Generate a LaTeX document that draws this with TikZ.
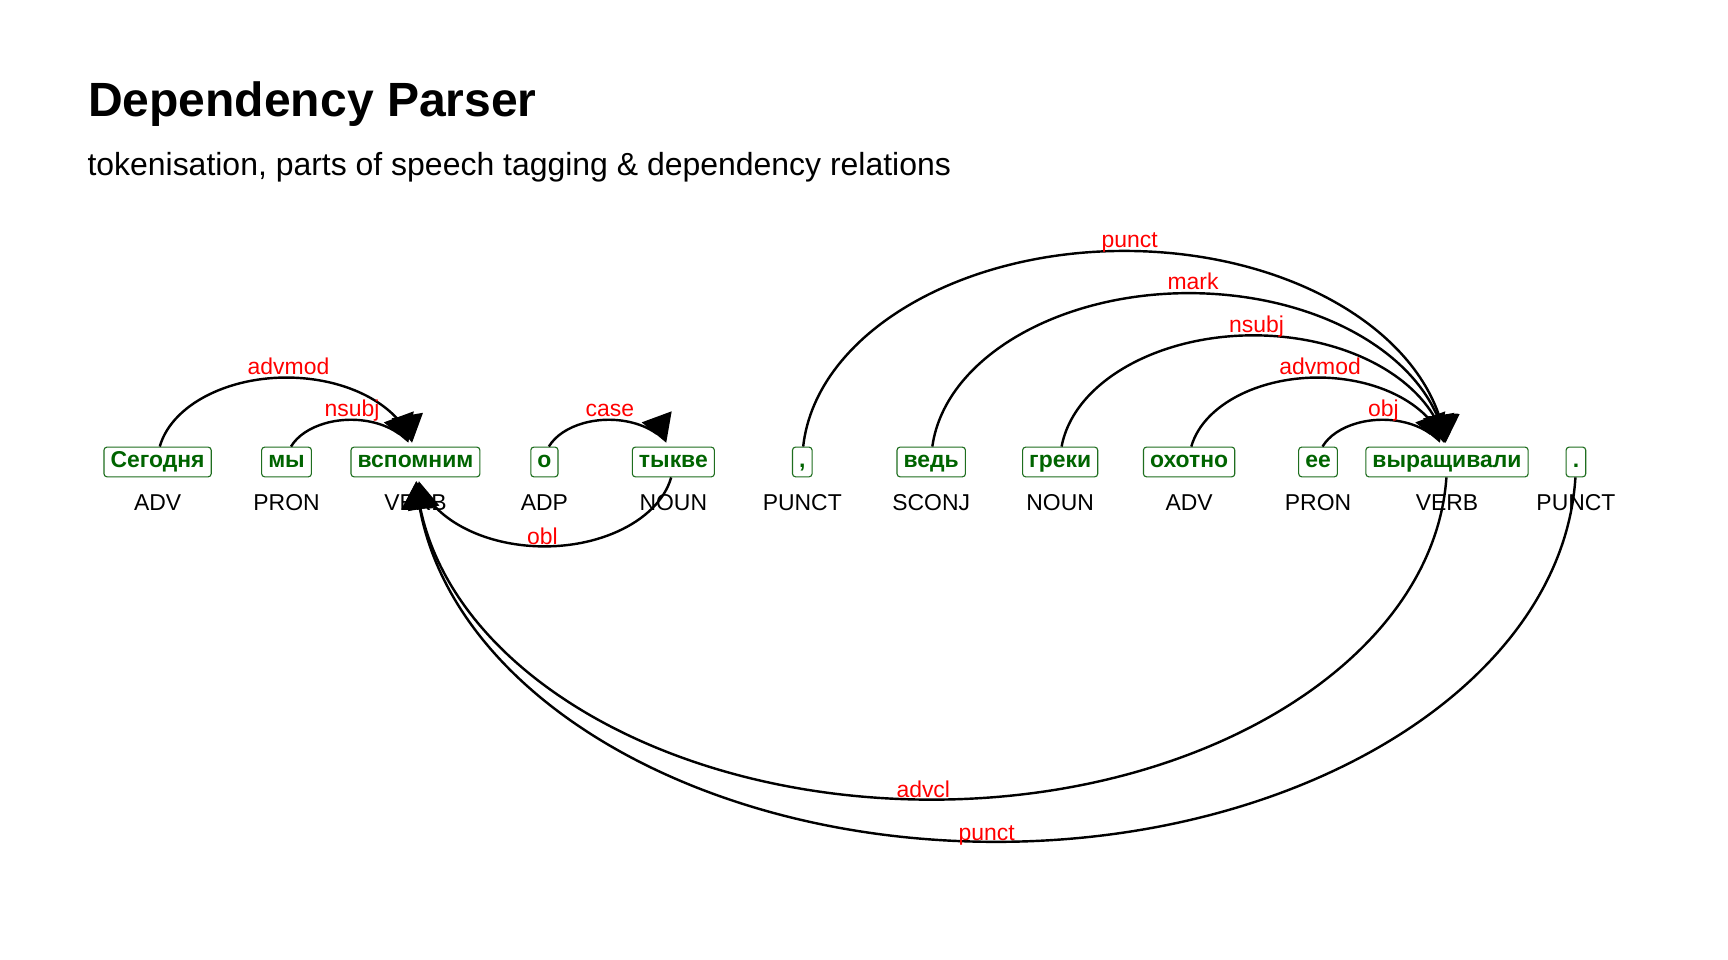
\documentclass[tikz,border=0pt]{standalone}
\usepackage{fontspec}
\setmainfont{Liberation Sans}
\usetikzlibrary{calc}
\definecolor{tokgreen}{HTML}{006400}
\definecolor{tokborder}{HTML}{1E6E1E}
\definecolor{relred}{HTML}{FF0000}
% common geometry of an arc spanning #1 tokens
\newcommand{\depgeom}[1]{%
  \pgfmathsetmacro\dA{58.5*#1}%
  \pgfmathsetmacro\dB{38.3*#1}%
  \pgfmathsetmacro\dS{asin(14/\dB)}%
  \pgfmathsetmacro\dE{asin(17.5/\dB)}%
  \pgfmathsetmacro\dEl{asin(25.5/\dB)}%
  \pgfmathsetmacro\dX{\dA*(1-cos(\dS))}%
  \pgfmathsetmacro\dTx{\dA*(1+cos(\dE))}%
  \pgfmathsetmacro\dT{\dE/2}%
}
\newcommand{\depabove}[4]{%
  \depgeom{#3}%
  \pgfmathsetmacro\dSa{180-\dS}%
  \pgfmathsetmacro\dAng{atan2(-\dB*cos(\dT),\dA*sin(\dT))}%
  \pgfmathsetmacro\dL{\dB+3}%
  \pgfmathsetmacro\dH{0.9*#3}%
  \draw[dep] ($(#1.center)+(\dX,14)$) arc[start angle=\dSa, end angle=\dEl, x radius=\dA, y radius=\dB];
  \fill[arrowhead, shift={($(#1.center)+(\dTx,17.5)$)}, rotate=\dAng] (0,0) -- (-25,14.5) -- (-25,-14.5) -- cycle;
  \node[rellabel] at ($(#1.center)!0.5!(#2.center)+(\dH,\dL)$) {#4};
}
\newcommand{\depbelow}[4]{%
  \depgeom{#3}%
  \pgfmathsetmacro\dSa{-\dS}%
  \pgfmathsetmacro\dEa{\dEl-180}%
  \pgfmathsetmacro\dAng{atan2(\dB*cos(\dT),-\dA*sin(\dT))}%
  \pgfmathsetmacro\dL{1.5-\dB}%
  \pgfmathsetmacro\dH{-0.9*#3}%
  \draw[dep] ($(#1.center)+(-\dX,-14)$) arc[start angle=\dSa, end angle=\dEa, x radius=\dA, y radius=\dB];
  \fill[arrowhead, shift={($(#1.center)+(-\dTx,-17.5)$)}, rotate=\dAng] (0,0) -- (-25,14.5) -- (-25,-14.5) -- cycle;
  \node[rellabel] at ($(#1.center)!0.5!(#2.center)+(\dH,\dL)$) {#4};
}
\begin{document}
\begin{tikzpicture}[x=0.5pt,y=0.5pt,
  tok/.style={draw=tokborder, text=tokgreen, fill=white, font=\fontsize{10.4}{12}\selectfont\bfseries,
    rounded corners=1.4pt, line width=0.5pt, inner xsep=3pt, inner ysep=1.85pt,
    text height=7.6pt, text depth=2.2pt},
  postag/.style={anchor=base, inner sep=0pt, font=\fontsize{10.4}{12}\selectfont},
  rellabel/.style={anchor=base, inner sep=0pt, text=relred, font=\fontsize{10.4}{12}\selectfont},
  dep/.style={line width=1.1pt, black},
  arrowhead/.style={black},
  ttl/.style={anchor=base west, inner sep=0pt, font=\fontsize{21.8}{26}\selectfont\bfseries},
  subttl/.style={anchor=base west, inner sep=0pt, font=\fontsize{14.5}{17}\selectfont}]
\fill[white] (0,0) rectangle (1568,-871.1);
\useasboundingbox (0,0) rectangle (1568,-871.1);
\node[ttl] (title) at (79.5,-105.5) {Dependency Parser};
\node[subttl] (subtitle) at (79,-159) {tokenisation, parts of speech tagging \& dependency relations};
% tokens
\node[tok] (w1) at (143,-419.2) {Сегодня};
\node[tok] (w2) at (260,-419.2) {мы};
\node[tok] (w3) at (377,-419.2) {вспомним};
\node[tok] (w4) at (494,-419.2) {о};
\node[tok] (w5) at (611,-419.2) {тыкве};
\node[tok] (w6) at (728,-419.2) {,};
\node[tok] (w7) at (845,-419.2) {ведь};
\node[tok] (w8) at (962,-419.2) {греки};
\node[tok] (w9) at (1079,-419.2) {охотно};
\node[tok] (w10) at (1196,-419.2) {ее};
\node[tok] (w11) at (1313,-419.2) {выращивали};
\node[tok] (w12) at (1430,-419.2) {.};
% parts of speech
\node[postag] (p1) at (143,-463.5) {ADV};
\node[postag] (p2) at (260,-463.5) {PRON};
\node[postag] (p3) at (377,-463.5) {VERB};
\node[postag] (p4) at (494,-463.5) {ADP};
\node[postag] (p5) at (611,-463.5) {NOUN};
\node[postag] (p6) at (728,-463.5) {PUNCT};
\node[postag] (p7) at (845,-463.5) {SCONJ};
\node[postag] (p8) at (962,-463.5) {NOUN};
\node[postag] (p9) at (1079,-463.5) {ADV};
\node[postag] (p10) at (1196,-463.5) {PRON};
\node[postag] (p11) at (1313,-463.5) {VERB};
\node[postag] (p12) at (1430,-463.5) {PUNCT};
% dependency arcs
\depabove{w1}{w3}{2}{advmod}
\depabove{w2}{w3}{1}{nsubj}
\depabove{w4}{w5}{1}{case}
\depabove{w6}{w11}{5}{punct}
\depabove{w7}{w11}{4}{mark}
\depabove{w8}{w11}{3}{nsubj}
\depabove{w9}{w11}{2}{advmod}
\depabove{w10}{w11}{1}{obj}
\depbelow{w5}{w3}{2}{obl}
\depbelow{w11}{w3}{8}{advcl}
\depbelow{w12}{w3}{9}{punct}
\end{tikzpicture}
\end{document}
